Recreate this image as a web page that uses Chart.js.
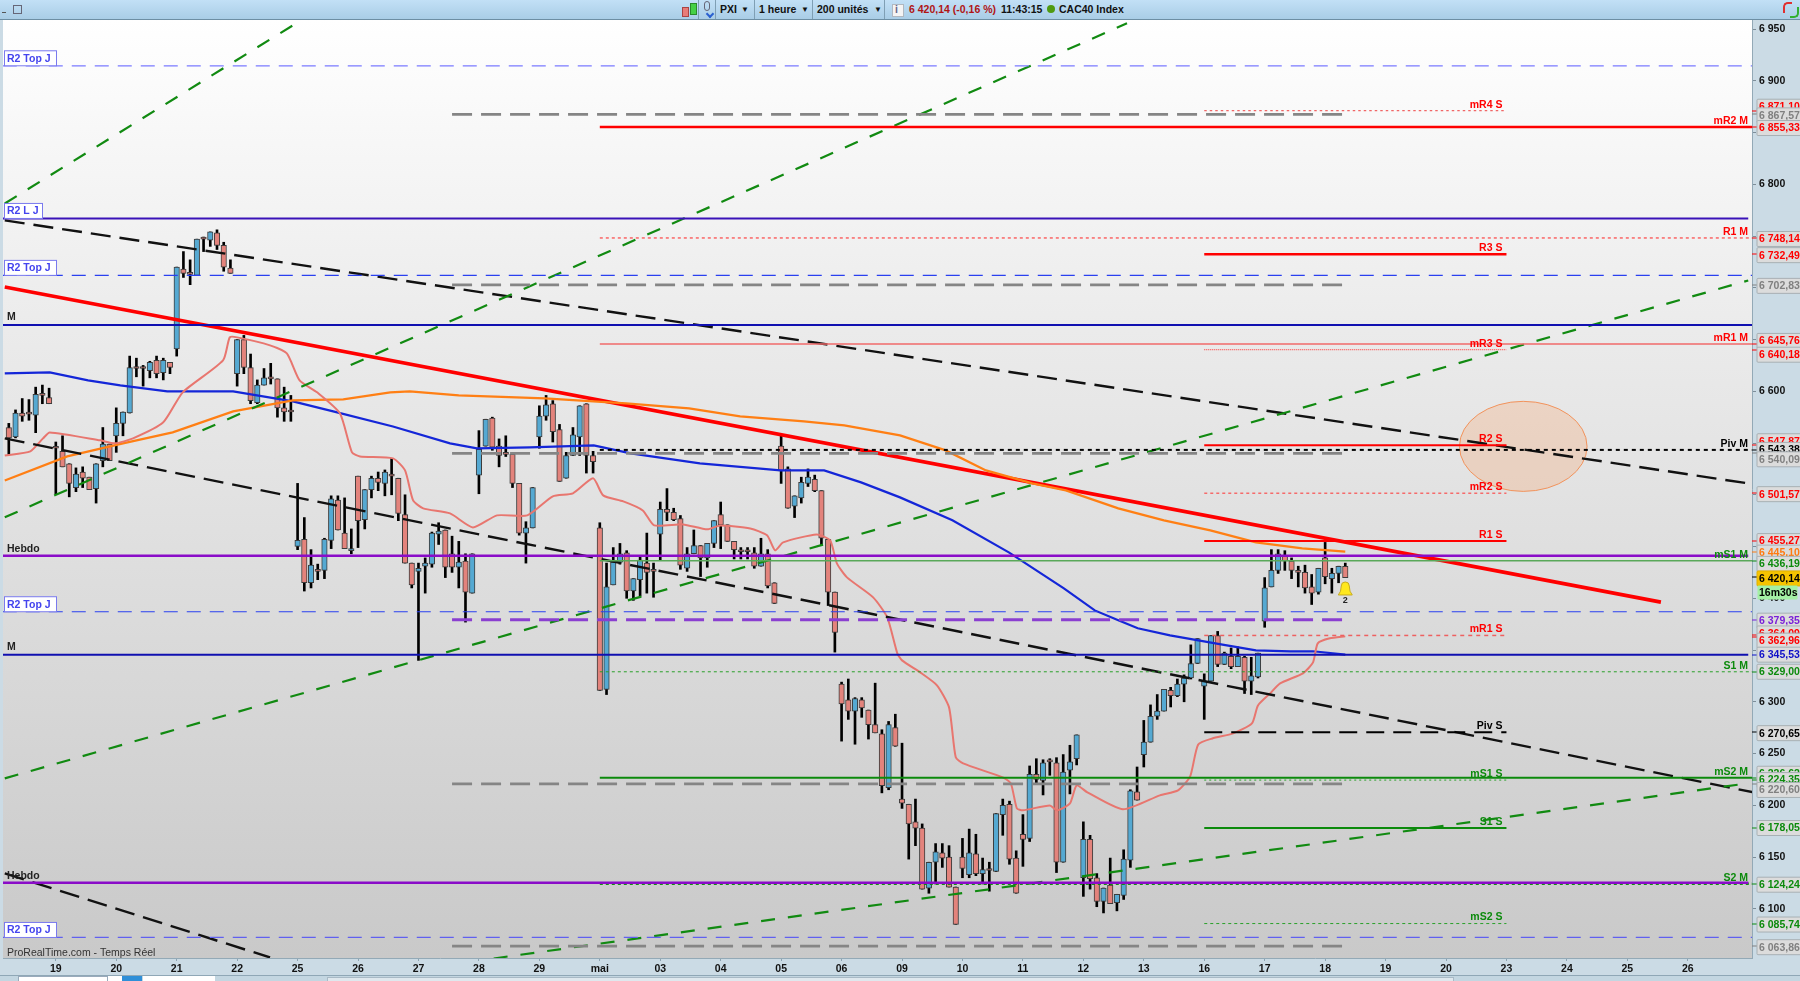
<!DOCTYPE html>
<html>
<head>
<meta charset="utf-8">
<title>CAC40 Index</title>
<script src="https://cdn.jsdelivr.net/npm/chart.js@4"></script>
<style>
html, body { margin: 0; padding: 0; overflow: hidden; background: #cbdbe5; }
#wrap { position: relative; width: 1800px; height: 981px; font: bold 10.5px "Liberation Sans", sans-serif; color: #111; }
canvas { position: absolute; left: 0; top: 0; }
#bar { position: absolute; left: 0; top: 0; width: 1800px; height: 19px; background: linear-gradient(#c2e0f6, #a9cde6); border-bottom: 1px solid #6d8ea3; }
#bar span, #bar i, #foot i { position: absolute; display: block; }
#bar span { top: 3px; white-space: nowrap; line-height: 13px; }
#bar .sep { top: 0; width: 1px; height: 19px; background: #7f9fb4; }
#foot { position: absolute; left: 0; top: 975px; width: 1800px; height: 6px; background: #c3d6e1; border-top: 1px solid #8fa7b6; }
</style>
</head>
<body>
<div id="wrap">
    <canvas id="priceChart" width="1800" height="981"></canvas>
    <div id="bar">
        <i style="left:2px;top:12px;width:4px;height:1px;background:#555"></i>
        <i style="left:13px;top:5px;width:7px;height:7px;border:1px solid #667"></i>
        <i style="left:682px;top:7px;width:5px;height:8px;background:#e87c78;border:1px solid #a44"></i>
        <i style="left:690px;top:3px;width:5px;height:10px;background:#45d045;border:1px solid #2a8a2a"></i>
        <i style="left:704px;top:1px;width:4px;height:8px;border:1px solid #667;border-radius:3px"></i>
        <i style="left:707px;top:11px;width:4px;height:4px;border-left:2px solid #2a60d0;border-bottom:2px solid #2a60d0;transform:rotate(-45deg)"></i>
        <i class="sep" style="left:698px"></i><i class="sep" style="left:715px"></i>
        <span style="left:720px">PXI</span><span style="left:741px;font-size:8px">▼</span>
        <i class="sep" style="left:754px"></i>
        <span style="left:759px">1 heure</span><span style="left:801px;font-size:8px">▼</span>
        <i class="sep" style="left:812px"></i>
        <span style="left:817px">200 unités</span><span style="left:874px;font-size:8px">▼</span>
        <i class="sep" style="left:884px"></i>
        <i style="left:892px;top:4px;width:10px;height:11px;background:#f4f4f4;border:1px solid #b0b8c0"></i>
        <span style="left:895px;color:#668">i</span>
        <span style="left:909px;color:#b01414">6 420,14 (-0,16 %)</span>
        <span style="left:1001px">11:43:15</span>
        <i style="left:1047px;top:5px;width:8px;height:8px;border-radius:50%;background:#4f9a10"></i>
        <span style="left:1059px">CAC40 Index</span>
        <i style="left:1783px;top:2px;width:7px;height:9px;border-left:2px solid #e03030;border-top:2px solid #e03030;border-radius:5px 0 0 0"></i>
        <i style="left:1790px;top:7px;width:7px;height:9px;border-right:2px solid #30b030;border-bottom:2px solid #30b030;border-radius:0 0 5px 0"></i>
    </div>
    <div id="foot">
        <i style="left:18px;top:0;width:88px;height:6px;background:#fff;border:1px solid #9ab"></i>
        <i style="left:108px;top:0;width:20px;height:6px;background:#fff"></i>
        <i style="left:122px;top:0;width:20px;height:6px;background:#2f8fd8"></i>
        <i style="left:143px;top:0;width:72px;height:6px;background:#fff"></i>
        <i style="left:327px;top:1px;width:1125px;height:5px;background:#dfe8ee;border:1px solid #a9bac6"></i>
    </div>
</div>

<script>
// hourly candles, 200 bars
const opens = [
    6565,6556,6579,6578,6577,6596,6594,6545,6542,6530,
    6507,6522,6517,6506,6533,6549,6557,6569,6579,6623,
    6622,6620,6630,6618,6628,6641,6718,6713,6712,6749,
    6746,6753,6741,6719,6617,6650,6623,6589,6606,6614,
    6612,6584,6580,6450,6457,6415,6426,6427,6456,6495,
    6463,6446,6518,6476,6505,6516,6511,6520,6516,6481,
    6434,6426,6431,6433,6462,6466,6443,6430,6436,6405,
    6519,6547,6574,6547,6539,6539,6511,6463,6468,6556,
    6576,6588,6563,6516,6538,6556,6588,6538,6468,6312,
    6413,6435,6444,6407,6418,6434,6426,6462,6486,6483,
    6477,6429,6443,6451,6439,6453,6481,6471,6455,6445,
    6445,6444,6431,6443,6415,6547,6525,6489,6497,6511,
    6515,6504,6457,6406,6317,6302,6291,6302,6292,6278,
    6269,6217,6275,6206,6201,6184,6178,6120,6145,6154,
    6150,6121,6150,6133,6153,6134,6137,6136,6191,6201,
    6149,6172,6168,6230,6224,6242,6241,6145,6234,6245,
    6130,6167,6130,6107,6123,6106,6113,6147,6213,6249,
    6261,6286,6291,6311,6306,6317,6323,6337,6315,6320,
    6364,6336,6344,6334,6343,6320,6324,6378,6411,6427,
    6441,6436,6427,6425,6411,6406,6439,6419,6424,6431
];
const highs = [
    6569,6582,6593,6592,6604,6606,6603,6551,6557,6530,
    6526,6527,6517,6530,6565,6549,6584,6580,6634,6632,
    6625,6629,6634,6632,6628,6720,6735,6727,6747,6749,
    6754,6756,6744,6727,6650,6654,6636,6611,6622,6627,
    6612,6604,6596,6511,6478,6447,6433,6458,6499,6499,
    6497,6467,6518,6505,6518,6522,6524,6535,6516,6500,
    6434,6434,6439,6464,6473,6466,6460,6455,6443,6443,
    6562,6573,6575,6554,6557,6539,6511,6474,6507,6586,
    6596,6591,6568,6541,6565,6586,6588,6542,6473,6434,
    6449,6453,6446,6419,6441,6463,6434,6493,6506,6487,
    6480,6449,6466,6451,6453,6475,6493,6471,6455,6449,
    6449,6449,6458,6447,6415,6557,6527,6499,6517,6525,
    6519,6504,6457,6406,6319,6322,6304,6304,6292,6318,
    6273,6281,6288,6260,6201,6206,6182,6145,6163,6163,
    6161,6121,6168,6177,6172,6149,6145,6192,6206,6204,
    6156,6191,6238,6245,6244,6245,6246,6249,6258,6268,
    6184,6171,6134,6120,6149,6114,6157,6215,6237,6282,
    6297,6307,6312,6314,6322,6326,6355,6361,6327,6364,
    6368,6348,6352,6353,6344,6343,6347,6420,6447,6447,
    6446,6439,6431,6432,6423,6429,6454,6429,6431,6434
];
const lows = [
    6539,6555,6571,6572,6560,6588,6588,6501,6527,6498,
    6503,6507,6505,6492,6527,6533,6541,6557,6579,6614,
    6605,6613,6613,6611,6617,6634,6710,6703,6712,6735,
    6740,6737,6716,6714,6605,6617,6588,6588,6606,6607,
    6575,6571,6571,6447,6407,6410,6418,6419,6448,6466,
    6448,6443,6449,6467,6497,6504,6499,6500,6475,6434,
    6410,6340,6405,6430,6452,6420,6425,6410,6377,6405,
    6501,6547,6543,6527,6537,6507,6461,6434,6468,6545,
    6572,6551,6513,6516,6538,6538,6521,6521,6311,6307,
    6413,6433,6400,6398,6402,6405,6401,6437,6475,6475,
    6428,6426,6443,6421,6430,6449,6448,6455,6438,6438,
    6438,6429,6431,6410,6395,6511,6487,6478,6492,6508,
    6503,6451,6393,6348,6262,6283,6259,6285,6264,6270,
    6212,6215,6257,6197,6148,6161,6119,6115,6124,6140,
    6121,6085,6130,6130,6132,6124,6117,6136,6171,6143,
    6115,6141,6165,6220,6210,6229,6135,6145,6211,6239,
    6112,6119,6102,6096,6105,6098,6109,6140,6205,6237,
    6261,6283,6291,6295,6305,6300,6322,6337,6283,6320,
    6334,6336,6332,6334,6308,6307,6323,6372,6411,6424,
    6427,6419,6411,6405,6394,6404,6414,6405,6415,6420
];
const closes = [
    6555,6579,6576,6578,6597,6596,6588,6545,6527,6511,
    6520,6516,6505,6530,6549,6533,6569,6580,6623,6622,
    6622,6628,6617,6630,6623,6720,6714,6713,6747,6747,
    6754,6741,6720,6714,6650,6623,6591,6606,6613,6612,
    6584,6580,6580,6456,6415,6432,6426,6457,6496,6466,
    6448,6448,6475,6505,6516,6512,6522,6518,6482,6434,
    6413,6429,6434,6463,6465,6430,6430,6435,6406,6443,
    6544,6573,6546,6538,6539,6511,6463,6468,6507,6576,
    6587,6561,6513,6538,6558,6586,6538,6532,6311,6411,
    6435,6443,6407,6419,6437,6425,6426,6486,6483,6476,
    6432,6443,6451,6439,6453,6475,6471,6455,6447,6445,
    6445,6431,6443,6412,6395,6523,6487,6499,6512,6517,
    6504,6458,6406,6367,6298,6291,6303,6294,6278,6270,
    6219,6278,6257,6202,6182,6178,6119,6145,6155,6149,
    6121,6085,6139,6154,6134,6138,6137,6192,6200,6148,
    6115,6167,6230,6225,6241,6242,6145,6232,6242,6268,
    6167,6129,6107,6120,6105,6114,6148,6214,6205,6261,
    6286,6291,6312,6306,6317,6323,6337,6361,6320,6364,
    6336,6347,6334,6344,6320,6325,6347,6410,6427,6443,
    6436,6427,6425,6410,6405,6429,6421,6424,6431,6420
];

// moving averages, read at their bends (bar number, price)
const blueBars = [-0.6,6.1,11.8,16.6,23.6,33.4,42.3,48.3,57.2,65.7,69.7,77.6,87.1,92.6,102.9,114.9,121.4,126.9,132.7,140.5,148.9,157.1,161.7,165.2,168.1,172.9,180.5,185.7,190.8,194.2,199];
const bluePrices = [6617.3,6618.3,6610.5,6605.7,6599.9,6599.9,6590.2,6580.6,6566,6549.7,6544.8,6545.8,6547.7,6540,6530.3,6523.6,6523.6,6512,6497.5,6475.3,6444.4,6409.6,6388.3,6378.7,6371,6364.2,6355.5,6349.7,6348.8,6348.8,6345.5];
const orangeBars = [-0.6,8.7,17,24.4,33.4,42.3,49.8,56.8,59.7,67,79.8,91.9,101.3,108.9,118.4,124.4,132.7,139.5,145.5,152.4,157.4,165.2,172,178.9,185.7,192.6,199];
const orangePrices = [6513.9,6537.1,6549.7,6560.3,6580.6,6591.2,6592.2,6598.9,6599.9,6596,6593.1,6588.3,6583.5,6575.7,6570.9,6567.1,6557.4,6542.9,6523.6,6511,6504.3,6486.9,6475.3,6465.6,6454,6448.2,6445.1];
const bandBars = [-0.6,3.2,5.1,6.1,13.6,15.8,18.5,23,25.9,31.9,32.9,34,38.9,41.4,43.3,45.9,49.3,51.1,52.3,57.2,59,60.2,61.7,65.7,69.1,72.7,77.2,81,84,87,88.5,91.5,94.4,96.1,100.4,104,105.9,110.4,112.9,114.1,115.3,120.3,122.3,123.3,124.8,128.7,130.8,132.3,133,135.7,138.2,140,141,142.1,148,149.2,150.1,151,155,156.1,158,159,160.6,165.9,171.4,174.1,175.9,177.1,179.2,182.3,185.1,186,187.8,189.3,192.7,194.2,194.9,196.7,199];
const bandPrices = [6538,6542,6554.5,6560.3,6552.6,6549.7,6554.5,6570,6599,6629.9,6652.1,6652.1,6644.4,6636.6,6610.6,6599,6578.7,6541,6537.1,6535.2,6523.6,6494.6,6486.9,6482,6468.5,6480.1,6480.1,6498.5,6501.4,6515.9,6499.4,6493.6,6484.9,6470.4,6471.4,6466.6,6470.4,6467.5,6460.8,6446.3,6454,6461.7,6455.9,6433.7,6420.2,6400.9,6381.6,6346.8,6340,6328.4,6315.9,6294.6,6246.3,6240.5,6226.9,6221.2,6197,6195.1,6199.9,6195.1,6201.8,6219.2,6212.5,6196.1,6209.6,6214.4,6227.9,6258.8,6264.6,6269.5,6279.1,6296.5,6308.1,6317.8,6327.5,6338.1,6356.4,6361.3,6363.2];

// trend lines: two ends each
const greenTrendBars = [[-0.6,43.5],[-0.6,166.5],[-0.6,259],[72.2,259]];
const greenTrendPrices = [[6781.5,6958.4],[6478.2,6955.5],[6226,6707.1],[6052,6221.3]];
const blackTrendBars = [[-0.6,259],[-0.6,259.6],[-0.6,38.9]];
const blackTrendPrices = [[6765.1,6511],[6554.5,6212.7],[6134.2,6053]];
const redTrendBars = [-0.6,246];
const redTrendPrices = [6700.7,6396.3];

// pivot levels
const monthNames = ['mR2 M','R1 M','mR1 M','Piv M','mS1 M','S1 M','mS2 M','S2 M'];
const monthLevels = [6855.33,6748.14,6645.76,6543.38,6436.19,6329.00,6226.62,6124.24];
const weekNames = ['mR4 S','R3 S','mR3 S','R2 S','mR2 S','R1 S','mR1 S','Piv S','mS1 S','S1 S','mS2 S'];
const weekLevels = [6871.10,6732.49,6640.18,6547.87,6501.57,6455.27,6364.09,6270.65,6224.35,6178.05,6085.74];
const greyLevels = [6867.57,6702.83,6540.09,6220.60,6063.86];
const purpleLevel = 6379.35;
const topLevels = [6914.5,6712,6387,6072.3];
const lowLevel = 6767;
const monthLineLevels = [6664,6345.53];
const weekLineLevels = [6441,6125.2];

// right axis
const yTicks = [6100,6150,6200,6250,6300,6350,6400,6450,6500,6550,6600,6650,6700,6750,6800,6850,6900,6950];
const tagPrices = [6871.10,6867.57,6855.33,6748.14,6732.49,6702.83,6645.76,6640.18,6547.87,6543.38,6540.09,6501.57,6455.27,6445.10,6436.19,6420.14,6379.35,6364.09,6362.96,6345.53,6329.00,6270.65,6226.62,6224.35,6220.60,6178.05,6124.24,6085.74,6063.86];
const lastPrice = 6420.14;
const countdownText = '16m30s';

// bottom axis: first bar of each day
const dayLabels = ['19','20','21','22','25','26','27','28','29','mai','03','04','05','06','09','10','11','12','13','16','17','18','19','20','23','24','25','26'];
const dayBars = [7,16,25,34,43,52,61,70,79,88,97,106,115,124,133,142,151,160,169,178,187,196,205,214,223,232,241,250];

// circled zone and alert bell
const zoneBar = 225.5, zonePrice = 6546.8, zoneBarRadius = 9.5, zonePriceRadius = 43.5;
const bellBar = 199, bellPrice = 6409;

// styles, kept apart from the values
const RED = '#ff0000', GREEN = '#0c8a0c', LGREEN = '#2aa02a', BLACK = '#000000';
const levelStyles = {
    'mR2 M': [RED, 2.5, []], 'R1 M': ['#ff2020', 1, [3, 3]], 'mR1 M': ['#f06a6a', 1.6, []], 'Piv M': [BLACK, 2, [4, 4]],
    'mS1 M': ['#5aa85a', 1.5, []], 'S1 M': [LGREEN, 1, [3, 3]], 'mS2 M': [GREEN, 2, []], 'S2 M': [GREEN, 2.5, [3, 3]],
    'mR4 S': ['#ee4040', 1, [2.5, 3]], 'R3 S': [RED, 2.5, []], 'mR3 S': ['#ff3030', 1, [1, 1]], 'R2 S': [RED, 2, []],
    'mR2 S': ['#ff3030', 1, [3, 3]], 'R1 S': [RED, 2, []], 'mR1 S': ['#ee6060', 1.5, [4, 4]], 'Piv S': [BLACK, 2, [18, 9]],
    'mS1 S': [LGREEN, 1, [2, 3]], 'S1 S': [GREEN, 2, []], 'mS2 S': [LGREEN, 1, [3, 3]]
};
const tagColors = ['#ff0000','#808080','#ff0000','#ff0000','#ff0000','#808080','#ff0000','#ff0000','#ff0000','#000000','#808080','#ff0000','#ff0000','#ff7a10','#0c8a0c','#000000','#7a20d8','#ff0000','#ff0000','#1010c8','#0c8a0c','#000000','#0c8a0c','#0c8a0c','#808080','#0c8a0c','#0c8a0c','#0c8a0c','#808080'];
const tagShifts = [-4,1,1,1,1,1,-3,5,-4,0,6,1,0,1,3,1,1,-2,4,0,0,1,-4,0,6,0,1,1,1];
const topColors = ['#7a7aff','#2a40f0','#2a40f0','#6060f0'];

const FONT = 'bold 10.5px "Liberation Sans", sans-serif';
const MONTH_START = 88, WEEK_START = 178, WEEK_END = 223, GREY_START = 66, LAST_BAR = 199, RIGHT_EDGE = 259.6;

function pts(xs, ys) {
    return xs.map((x, i) => ({ x: x, y: ys[i] }));
}

function lineSet(data, color, width, dash, tension) {
    return {
        type: 'line', data: data, borderColor: color, borderWidth: width, borderDash: dash || [],
        pointRadius: 0, tension: tension || 0, order: 1
    };
}

function levelSet(price, from, to, color, width, dash) {
    return lineSet(pts([from, to], [price, price]), color, width, dash);
}

const datasets = [];

// candles: wick bar plus body bar
datasets.push({
    type: 'bar', order: 11, grouped: false, barThickness: 2, backgroundColor: '#000',
    data: opens.map((o, i) => ({ x: i, y: [lows[i], highs[i]] }))
});
datasets.push({
    type: 'bar', order: 10, grouped: false, barThickness: 5.5, minBarLength: 2,
    borderWidth: 1, borderColor: '#3c3c3c', borderSkipped: false,
    backgroundColor: opens.map((o, i) => closes[i] > o ? '#55a9d2' : '#e3837c'),
    data: opens.map((o, i) => ({ x: i, y: [o, closes[i]] }))
});

topLevels.forEach((p, i) => datasets.push(levelSet(p, -0.9, RIGHT_EDGE, topColors[i], 1.2, [14, 9])));
datasets.push(levelSet(lowLevel, -0.9, 259, '#3a12b8', 2));
datasets.push(levelSet(monthLineLevels[0], -0.9, RIGHT_EDGE, '#1010b0', 2));
datasets.push(levelSet(monthLineLevels[1], -0.9, 259, '#1010b0', 2));
weekLineLevels.forEach(p => datasets.push(levelSet(p, -0.9, 259, '#8a0cc8', 2.5)));

greyLevels.forEach(p => datasets.push(levelSet(p, GREY_START, LAST_BAR, '#858585', 2.8, [20, 9])));
datasets.push(levelSet(purpleLevel, GREY_START, LAST_BAR, '#8a3fd0', 3, [20, 9]));

monthLevels.forEach((p, i) => {
    const s = levelStyles[monthNames[i]];
    datasets.push(levelSet(p, MONTH_START, RIGHT_EDGE, s[0], s[1], s[2]));
});
weekLevels.forEach((p, i) => {
    const s = levelStyles[weekNames[i]];
    datasets.push(levelSet(p, WEEK_START, WEEK_END, s[0], s[1], s[2]));
});

greenTrendBars.forEach((b, i) => datasets.push(lineSet(pts(b, greenTrendPrices[i]), '#118a11', 2.2, [14, 13])));
blackTrendBars.forEach((b, i) => datasets.push(lineSet(pts(b, blackTrendPrices[i]), '#111111', 2.4, [20, 9])));

datasets.push(lineSet(pts(bandBars, bandPrices), '#e8766f', 2, [], 0.2));
datasets.push(lineSet(pts(orangeBars, orangePrices), '#ff7f14', 2.2));
datasets.push(lineSet(pts(blueBars, bluePrices), '#1426d8', 2.2));
datasets.push(lineSet(pts(redTrendBars, redTrendPrices), '#ff0000', 3.6));

function fmt(v) {
    const parts = v.toFixed(2).split('.');
    return parts[0].charAt(0) + ' ' + parts[0].slice(1) + ',' + parts[1];
}

function roundRect(ctx, x, y, w, h, r) {
    ctx.beginPath();
    ctx.roundRect(x, y, w, h, r);
}

const background = {
    id: 'background',
    beforeDraw(chart) {
        const ctx = chart.ctx, a = chart.chartArea;
        ctx.save();
        ctx.fillStyle = '#cbdbe5';
        ctx.fillRect(0, 0, chart.width, chart.height);
        const g = ctx.createLinearGradient(0, a.top, 0, a.bottom);
        g.addColorStop(0, '#ffffff');
        g.addColorStop(0.33, '#ebebeb');
        g.addColorStop(0.62, '#dcdcdc');
        g.addColorStop(1, '#c9c9c9');
        ctx.fillStyle = g;
        ctx.fillRect(a.left, a.top, a.right - a.left, a.bottom - a.top);
        ctx.restore();
    },
    beforeDatasetsDraw(chart) {
        const ctx = chart.ctx, xs = chart.scales.x, ys = chart.scales.y;
        const cx = xs.getPixelForValue(zoneBar), cy = ys.getPixelForValue(zonePrice);
        const rx = xs.getPixelForValue(zoneBar + zoneBarRadius) - cx;
        const ry = cy - ys.getPixelForValue(zonePrice + zonePriceRadius);
        ctx.save();
        ctx.beginPath();
        ctx.ellipse(cx, cy, rx, ry, 0, 0, Math.PI * 2);
        ctx.fillStyle = 'rgba(246,170,120,0.32)';
        ctx.fill();
        ctx.strokeStyle = '#f2935c';
        ctx.lineWidth = 1;
        ctx.stroke();
        ctx.restore();
    }
};

const annotations = {
    id: 'annotations',
    afterDatasetsDraw(chart) {
        const ctx = chart.ctx, xs = chart.scales.x, ys = chart.scales.y, a = chart.chartArea;
        ctx.save();
        ctx.font = FONT;
        ctx.textBaseline = 'middle';

        // level names above their lines
        ctx.textAlign = 'right';
        monthNames.forEach((n, i) => {
            ctx.fillStyle = levelStyles[n][0] === BLACK ? '#000' : (n.includes('R') ? RED : GREEN);
            ctx.fillText(n, a.right - 4, ys.getPixelForValue(monthLevels[i]) - 6);
        });
        weekNames.forEach((n, i) => {
            ctx.fillStyle = levelStyles[n][0] === BLACK ? '#000' : (n.includes('R') ? RED : GREEN);
            ctx.fillText(n, xs.getPixelForValue(WEEK_END) - 4, ys.getPixelForValue(weekLevels[i]) - 6);
        });

        // boxes on the left
        ctx.textAlign = 'left';
        topLevels.forEach(p => {
            const y = ys.getPixelForValue(p);
            ctx.fillStyle = '#fff';
            ctx.strokeStyle = '#7a7aee';
            ctx.lineWidth = 1;
            ctx.fillRect(4.5, y - 15, 52, 15);
            ctx.strokeRect(4.5, y - 15, 52, 15);
            ctx.fillStyle = '#4444ee';
            ctx.fillText('R2 Top J', 7, y - 7);
        });
        const lowY = ys.getPixelForValue(lowLevel);
        ctx.fillStyle = '#fff';
        ctx.fillRect(4.5, lowY - 15, 38, 15);
        ctx.strokeRect(4.5, lowY - 15, 38, 15);
        ctx.fillStyle = '#4444ee';
        ctx.fillText('R2 L J', 7, lowY - 7);

        ctx.fillStyle = '#222';
        monthLineLevels.forEach(p => ctx.fillText('M', 7, ys.getPixelForValue(p) - 8));
        weekLineLevels.forEach(p => ctx.fillText('Hebdo', 7, ys.getPixelForValue(p) - 7));

        ctx.font = '10.5px "Liberation Sans", sans-serif';
        ctx.fillStyle = '#333';
        ctx.fillText('ProRealTime.com - Temps Réel', 7, a.bottom - 5);

        // alert bell
        const bx = xs.getPixelForValue(bellBar), by = ys.getPixelForValue(bellPrice);
        ctx.beginPath();
        ctx.moveTo(bx - 7, by + 6);
        ctx.quadraticCurveTo(bx - 4, by + 3, bx - 4, by - 3);
        ctx.arc(bx, by - 3, 4, Math.PI, 0);
        ctx.quadraticCurveTo(bx + 4, by + 3, bx + 7, by + 6);
        ctx.closePath();
        ctx.fillStyle = '#ffe81e';
        ctx.strokeStyle = '#c8ac20';
        ctx.lineWidth = 1;
        ctx.fill();
        ctx.stroke();
        ctx.font = 'bold 9px "Liberation Sans", sans-serif';
        ctx.fillStyle = '#222';
        ctx.textAlign = 'center';
        ctx.fillText('2', bx, by + 12);
        ctx.restore();
    },
    afterDraw(chart) {
        const ctx = chart.ctx, ys = chart.scales.y, a = chart.chartArea;
        ctx.save();
        ctx.font = FONT;
        ctx.textBaseline = 'middle';
        ctx.textAlign = 'left';
        tagPrices.forEach((p, i) => {
            const y = ys.getPixelForValue(p), cy = y + tagShifts[i];
            const last = p === lastPrice;
            ctx.fillStyle = tagColors[i];
            ctx.fillRect(a.right, Math.round(y) - 0.5, 5, 1);
            roundRect(ctx, 1757, cy - 7.5, 44, 15, 1);
            ctx.fillStyle = last ? '#f6c400' : '#dcdcdc';
            ctx.fill();
            ctx.strokeStyle = last ? '#e0b000' : '#a8b0b4';
            ctx.lineWidth = 1;
            ctx.stroke();
            ctx.fillStyle = tagColors[i];
            ctx.fillText(fmt(p), 1759, cy + 0.5);
            if (last) {
                roundRect(ctx, 1757.5, cy + 7, 40, 14, 1);
                ctx.fillStyle = '#a4f0a4';
                ctx.fill();
                ctx.fillStyle = '#000';
                ctx.fillText(countdownText, 1759, cy + 14.5);
            }
        });
        ctx.restore();
    }
};

const config = {
    type: 'bar',
    data: { datasets: datasets },
    plugins: [background, annotations],
    options: {
        responsive: false,
        animation: false,
        events: [],
        layout: { padding: { left: 3, top: 20, right: 0, bottom: 0 } },
        plugins: { legend: { display: false }, tooltip: { enabled: false } },
        scales: {
            x: {
                type: 'linear',
                offset: false,
                min: -0.864,
                max: 259.56,
                afterBuildTicks(scale) {
                    scale.ticks = dayBars.map(v => ({ value: v }));
                },
                afterFit(scale) {
                    scale.height = 23;
                },
                grid: { drawOnChartArea: false, offset: false, tickLength: 3, color: '#8da3b0' },
                border: { color: '#93a9b6' },
                ticks: {
                    autoSkip: false,
                    maxRotation: 0,
                    padding: 2,
                    color: '#111',
                    font: { family: '"Liberation Sans"', size: 10.5, weight: 'bold' },
                    callback: value => dayLabels[dayBars.indexOf(value)]
                }
            },
            y: {
                position: 'right',
                min: 6052.45,
                max: 6958.74,
                afterBuildTicks(scale) {
                    scale.ticks = yTicks.map(v => ({ value: v }));
                },
                afterFit(scale) {
                    scale.width = 48;
                },
                grid: { drawOnChartArea: false, tickLength: 4, color: '#7d8d98' },
                border: { color: '#93a9b6' },
                ticks: {
                    padding: 3,
                    color: '#111',
                    font: { family: '"Liberation Sans"', size: 10.5, weight: 'bold' },
                    callback: value => String(value).charAt(0) + ' ' + String(value).slice(1)
                }
            }
        }
    }
};

new Chart(document.getElementById('priceChart').getContext('2d'), config);
</script>
</body>
</html>
